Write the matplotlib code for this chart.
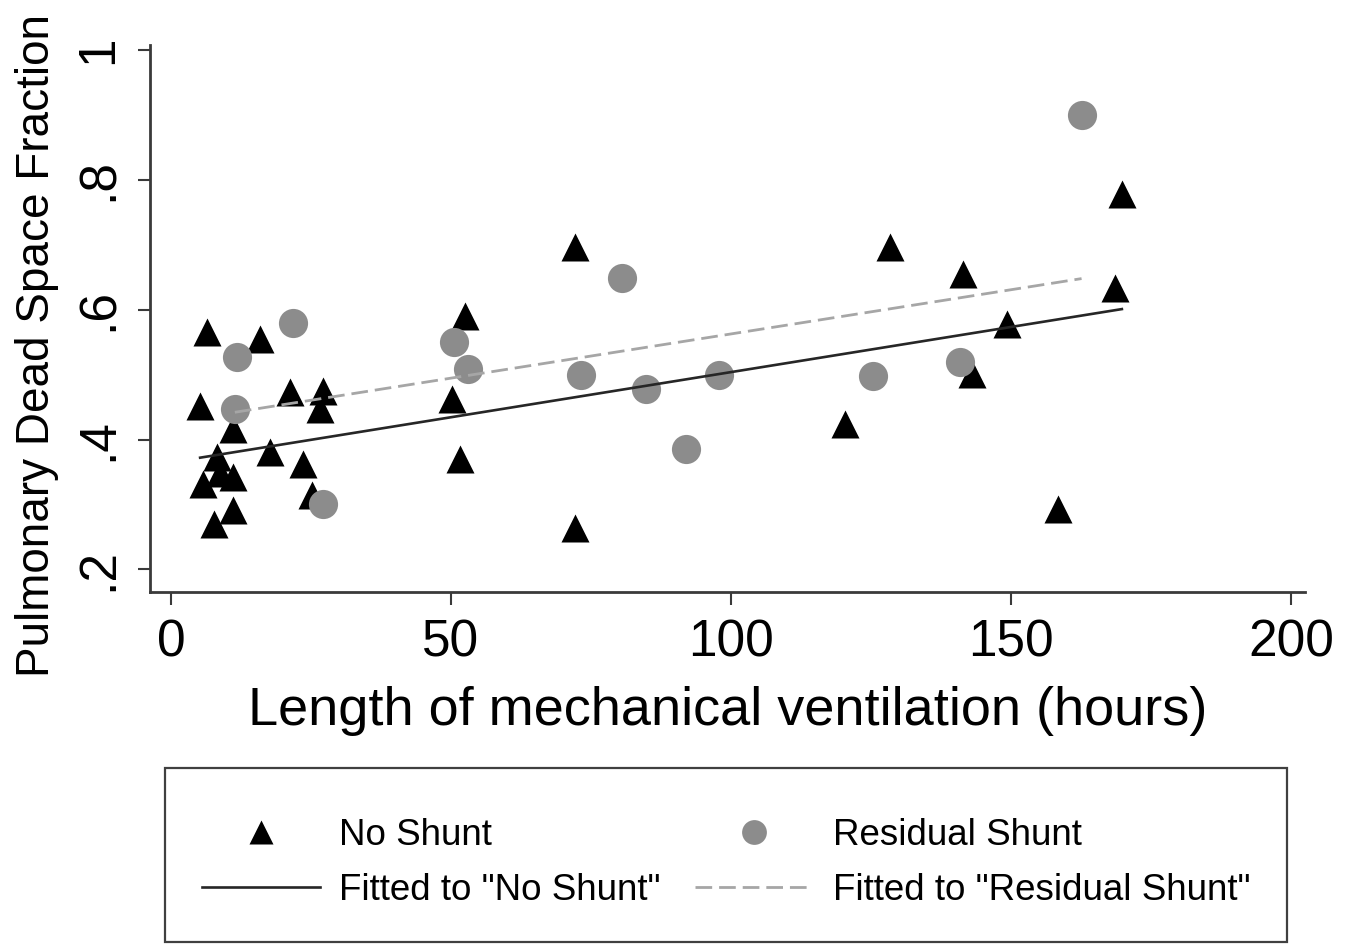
import matplotlib
matplotlib.use("Agg")
import matplotlib.pyplot as plt
from matplotlib.patches import Rectangle

plt.rcParams['font.family'] = ['Liberation Sans', 'DejaVu Sans']

# No Shunt (triangles)
no_x = [6.4, 15.9, 5.2, 11.1, 21.3, 27.2, 26.6, 17.7, 23.6, 8.2, 11.1, 5.8, 8.8, 11.1, 7.6, 25.1,
        72.1, 52.5, 50.1, 51.6, 72.1,
        169.8, 128.4, 141.5, 168.6, 149.3, 143.0, 120.4, 158.4]
no_y = [0.565, 0.555, 0.452, 0.416, 0.473, 0.475, 0.447, 0.380, 0.363, 0.373, 0.342, 0.332, 0.348, 0.291, 0.270, 0.314,
        0.696, 0.591, 0.463, 0.370, 0.263,
        0.778, 0.696, 0.655, 0.634, 0.578, 0.501, 0.424, 0.293]

# Residual Shunt (circles)
res_x = [11.7, 21.8, 11.4, 27.2, 50.5, 53.1, 73.3, 80.5, 84.9, 92.0, 97.9, 125.4, 140.9, 162.6]
res_y = [0.527, 0.580, 0.447, 0.301, 0.550, 0.508, 0.500, 0.649, 0.478, 0.386, 0.4995, 0.498, 0.520, 0.900]

# fitted lines (end points)
fit_no_x = [5.2, 169.8]
fit_no_y = [0.372, 0.601]
fit_res_x = [11.4, 162.6]
fit_res_y = [0.442, 0.648]

xticks = [0, 50, 100, 150, 200]
yticks = [0.2, 0.4, 0.6, 0.8, 1.0]
ytick_labels = ['.2', '.4', '.6', '.8', '1']

fig = plt.figure(figsize=(13.53, 9.46), dpi=100)
ax = fig.add_axes([150/1353, 1 - 592/946, 1155/1353, 547/946])

ax.plot(no_x, no_y, linestyle='none', marker='^', ms=20, color='black', mec='none',
        label='No Shunt', zorder=3)
ax.plot(res_x, res_y, linestyle='none', marker='o', ms=21, color='#8c8c8c', mec='none',
        label='Residual Shunt', zorder=4)
ax.plot(fit_no_x, fit_no_y, color='#262626', lw=1.9, label='Fitted to "No Shunt"', zorder=5)
ax.plot(fit_res_x, fit_res_y, color='#a6a6a6', lw=2, dashes=(6, 2.5),
        label='Fitted to "Residual Shunt"', zorder=5)

ax.set_xlim(-3.75, 202.5)
ax.set_ylim(0.165, 1.008)

ax.spines['top'].set_visible(False)
ax.spines['right'].set_visible(False)
for s in ['left', 'bottom']:
    ax.spines[s].set_linewidth(2)
    ax.spines[s].set_color('#3a3a3a')

ax.set_xticks(xticks)
ax.set_xticklabels([str(t) for t in xticks])
ax.set_yticks(yticks)
ax.set_yticklabels(ytick_labels, rotation=90, va='center')
ax.tick_params(axis='both', direction='out', length=9, width=1.5, color='#3a3a3a',
               labelsize=37, pad=10)

ax.set_xlabel('Length of mechanical ventilation (hours)', fontsize=39)
ax.xaxis.set_label_coords(0.5, -0.172)
ax.set_ylabel('Pulmonary Dead Space Fraction', fontsize=33)
ax.yaxis.set_label_coords(-0.079, 0.45)

# legend content without frame, the box is drawn on its own
h, l = ax.get_legend_handles_labels()
order = [0, 2, 1, 3]
leg = fig.legend([h[i] for i in order], [l[i] for i in order], ncol=2,
                 loc='upper left', bbox_to_anchor=(165/1353, 0, 1122/1353, 1 - 781/946),
                 mode='expand', fontsize=26.5, frameon=False,
                 borderpad=1.0, labelspacing=0.55,
                 handlelength=3.2, handletextpad=0.53,
                 markerscale=0.85, borderaxespad=0)
fig.add_artist(Rectangle((165/1353, 4/946), 1122/1353, 174/946, transform=fig.transFigure,
                         fill=False, edgecolor='#404040', lw=1.6))

fig.savefig('out.png', dpi=100)
